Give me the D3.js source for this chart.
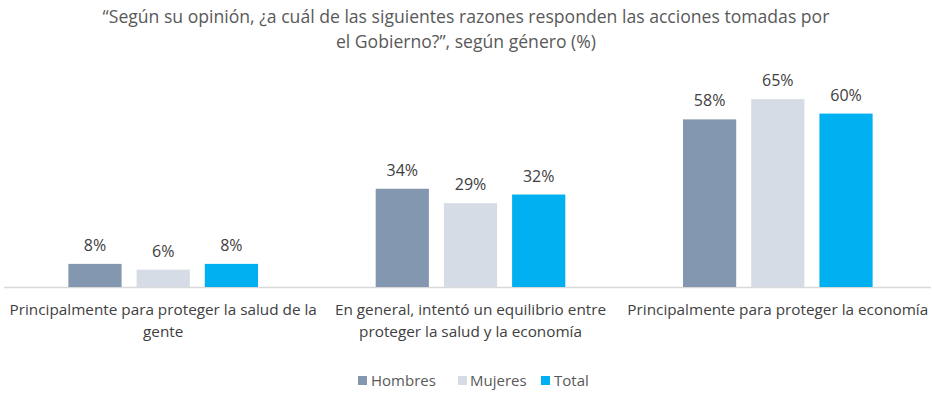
<!DOCTYPE html>
<html>
<head>
<meta charset="utf-8">
<script src="https://cdn.jsdelivr.net/npm/d3@7"></script>
<style>
  html, body { margin: 0; padding: 0; background: #fff; }
  svg { display: block; }
</style>
</head>
<body>
<svg id="chart" width="932" height="394"></svg>
<script>
// Survey answers by gender (%)
const categories = [
  ["Principalmente para proteger la salud de la", "gente"],
  ["En general, intentó un equilibrio entre", "proteger la salud y la economía"],
  ["Principalmente para proteger la economía"]
];
const seriesNames = ["Hombres", "Mujeres", "Total"];
const hombres = [8, 34, 58];
const mujeres = [6, 29, 65];
const total = [8, 32, 60];
const seriesValues = [hombres, mujeres, total];
const colors = ["#8497B0", "#D6DCE5", "#00B0F0"];
const titleLines = [
  "“Según su opinión, ¿a cuál de las siguientes razones responden las acciones tomadas por",
  "el Gobierno?”, según género (%)"
];

const svg = d3.select("#chart");
const W = 932, H = 394;
const plot = { left: 10, right: 931, top: 85, bottom: 287 };

const textFont = "'Open Sans', 'Noto Sans', sans-serif";

// Title
svg.append("g").selectAll("text").data(titleLines).join("text")
  .attr("x", 466)
  .attr("y", (d, i) => 23 + i * 25)
  .attr("text-anchor", "middle")
  .attr("font-family", textFont)
  .attr("font-size", 17.6)
  .attr("fill", "#595959")
  .text(d => d);

const x0 = d3.scaleBand()
  .domain(d3.range(categories.length))
  .range([plot.left, plot.right])
  .paddingInner(0.383)
  .paddingOuter(0.19);

const x1 = d3.scaleBand()
  .domain(d3.range(seriesNames.length))
  .range([0, x0.bandwidth()])
  .paddingInner(0.22);

const y = d3.scaleLinear().domain([0, 70]).range([plot.bottom, plot.bottom - 70 * 2.89]);

// Baseline
svg.append("line")
  .attr("x1", 4).attr("x2", W - 1)
  .attr("y1", plot.bottom + 0.5).attr("y2", plot.bottom + 0.5)
  .attr("stroke", "#d9d9d9").attr("stroke-width", 1.5);

const groups = svg.append("g").selectAll("g")
  .data(d3.range(categories.length))
  .join("g")
  .attr("transform", c => `translate(${x0(c)},0)`);

groups.selectAll("rect")
  .data(c => seriesValues.map((vals, s) => ({ s, v: vals[c] })))
  .join("rect")
  .attr("x", d => x1(d.s))
  .attr("width", x1.bandwidth())
  .attr("y", d => y(d.v))
  .attr("height", d => y(0) - y(d.v))
  .attr("fill", d => colors[d.s]);

groups.selectAll("text.val")
  .data(c => seriesValues.map((vals, s) => ({ s, v: vals[c] })))
  .join("text")
  .attr("class", "val")
  .attr("x", d => x1(d.s) + x1.bandwidth() / 2)
  .attr("y", d => y(d.v) - 13)
  .attr("text-anchor", "middle")
  .attr("font-family", textFont)
  .attr("font-size", 16)
  .attr("fill", "#404040")
  .text(d => d.v + "%");

// Category labels
svg.append("g").selectAll("text")
  .data(categories)
  .join("text")
  .attr("x", (d, i) => x0(i) + x0.bandwidth() / 2)
  .attr("y", 315)
  .attr("text-anchor", "middle")
  .attr("font-family", textFont)
  .attr("font-size", 15.3)
  .attr("fill", "#404040")
  .selectAll("tspan")
  .data(d => d)
  .join("tspan")
  .attr("x", function () { return this.parentNode.getAttribute("x"); })
  .attr("dy", (d, i) => i === 0 ? 0 : 22)
  .text(d => d);

// Legend
const legendItems = [
  { name: seriesNames[0], sx: 358, tx: 371 },
  { name: seriesNames[1], sx: 458, tx: 470 },
  { name: seriesNames[2], sx: 541, tx: 554 }
];
const lg = svg.append("g").selectAll("g").data(legendItems).join("g");
lg.append("rect")
  .attr("x", d => d.sx).attr("y", 376)
  .attr("width", 9).attr("height", 9)
  .attr("fill", (d, i) => colors[i]);
lg.append("text")
  .attr("x", d => d.tx).attr("y", 386)
  .attr("font-family", textFont)
  .attr("font-size", 15)
  .attr("fill", "#595959")
  .text(d => d.name);
</script>
</body>
</html>
